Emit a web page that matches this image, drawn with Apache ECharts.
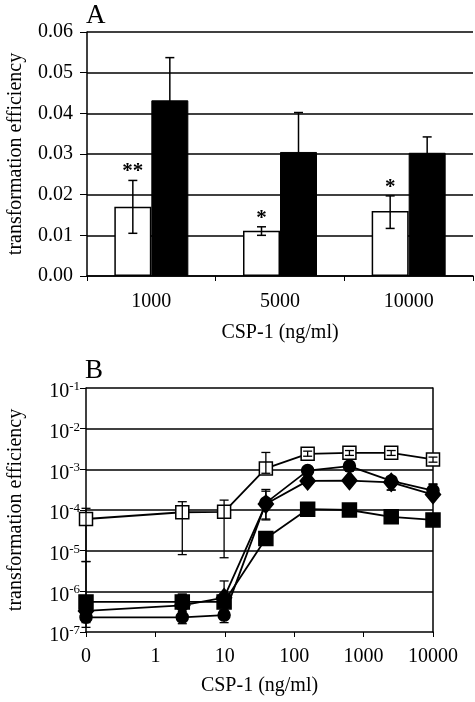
<!DOCTYPE html>
<html>
<head>
<meta charset="utf-8">
<script src="https://cdn.jsdelivr.net/npm/echarts@6/dist/echarts.min.js"></script>
<style>html,body{margin:0;padding:0;background:#fff;}#c{width:475px;height:702px;}</style>
</head>
<body>
<div id="c"></div>
<script>
// ---------- Panel A data ----------
const catsA = ['1000', '5000', '10000'];
const yTickLabelsA = ['0.00', '0.01', '0.02', '0.03', '0.04', '0.05', '0.06'];
const whiteVals = [0.0170, 0.0111, 0.0160];
const whiteLo = [0.0105, 0.0100, 0.0117];
const whiteHi = [0.0235, 0.0121, 0.0197];
const blackVals = [0.0432, 0.0305, 0.0303];
const blackLo = [0.0327, 0.0208, 0.0264];
const blackHi = [0.0537, 0.0402, 0.0342];
const starsA = ['**', '*', '*'];

// ---------- Panel B data ----------
const dosesB = [0, 2.44, 9.77, 39.06, 156.25, 625, 2500, 10000];
const xTickLabelsB = ['0', '1', '10', '100', '1000', '10000'];
const yExpLabelsB = ['-7', '-6', '-5', '-4', '-3', '-2', '-1'];
const openSqVals = [6.0e-5, 8.8e-5, 9.0e-5, 1.05e-3, 2.4e-3, 2.55e-3, 2.55e-3, 1.75e-3];
const openSqLo   = [5.4e-6, 8.0e-6, 6.7e-6, 8.0e-4, 2.1e-3, 2.2e-3, 2.2e-3, 1.5e-3];
const openSqHi   = [1.1e-4, 1.6e-4, 1.75e-4, 2.6e-3, 2.8e-3, 2.9e-3, 2.9e-3, 2.0e-3];
const circleVals = [2.3e-7, 2.3e-7, 2.6e-7, 1.5e-4, 9.3e-4, 1.2e-3, 5.2e-4, 3.0e-4];
const circleLo   = [1.3e-7, 1.6e-7, 1.7e-7, 5.7e-5, 8.0e-4, 9.0e-4, 3.1e-4, 2.0e-4];
const circleHi   = [3.0e-7, 3.2e-7, 3.5e-7, 2.9e-4, 1.05e-3, 1.4e-3, 6.0e-4, 4.4e-4];
const diamondVals = [3.3e-7, 4.5e-7, 7.0e-7, 1.4e-4, 5.2e-4, 5.3e-4, 4.8e-4, 2.4e-4];
const diamondLo   = [1.7e-7, 2.6e-7, 4.0e-7, 6.0e-5, 4.5e-4, 4.5e-4, 3.1e-4, 2.0e-4];
const diamondHi   = [5.4e-6, 8.5e-7, 1.8e-6, 3.2e-4, 6.0e-4, 6.2e-4, 6.0e-4, 4.2e-4];
const fsqVals = [5.5e-7, 5.5e-7, 5.5e-7, 2.0e-5, 1.05e-4, 1.0e-4, 6.8e-5, 5.7e-5];
const fsqLo   = [4.0e-7, 4.0e-7, 4.0e-7, 1.6e-5, 7.6e-5, 9.0e-5, 6.0e-5, 5.0e-5];
const fsqHi   = [7.0e-7, 8.5e-7, 7.0e-7, 2.5e-5, 1.2e-4, 1.1e-4, 7.5e-5, 6.3e-5];

// ---------- build ----------
const FONT = 'Liberation Serif';
const BAR_W = 37;
const xPos = d => (d === 0 ? 0.1 : d);   // "0" dose is drawn at the first decade of the log axis

function errA(lo, hi, offset, stars) {
  return {
    type: 'custom', xAxisIndex: 0, yAxisIndex: 0, z: 5,
    data: catsA.map((c, i) => [i, lo[i], hi[i]]),
    renderItem: function (params, api) {
      const i = api.value(0);
      const pLo = api.coord([i, api.value(1)]);
      const pHi = api.coord([i, api.value(2)]);
      const x = pLo[0] + offset;
      const st = { stroke: '#000', lineWidth: 1.5 };
      const ch = [
        { type: 'line', shape: { x1: x, y1: pLo[1], x2: x, y2: pHi[1] }, style: st },
        { type: 'line', shape: { x1: x - 4.5, y1: pLo[1], x2: x + 4.5, y2: pLo[1] }, style: st },
        { type: 'line', shape: { x1: x - 4.5, y1: pHi[1], x2: x + 4.5, y2: pHi[1] }, style: st }
      ];
      if (stars) {
        ch.push({ type: 'text', style: { text: stars[params.dataIndex], x: x, y: pHi[1] + 2,
          align: 'center', verticalAlign: 'bottom', fontSize: 21, fontWeight: 'bold', fontFamily: FONT, fill: '#000' } });
      }
      return { type: 'group', children: ch };
    }
  };
}

function errB(lo, hi) {
  return {
    type: 'custom', xAxisIndex: 1, yAxisIndex: 1, z: 6,
    data: dosesB.map((d, i) => [xPos(d), lo[i], hi[i]]),
    renderItem: function (params, api) {
      const pLo = api.coord([api.value(0), api.value(1)]);
      const pHi = api.coord([api.value(0), api.value(2)]);
      const x = pLo[0];
      const st = { stroke: '#000', lineWidth: 1.3 };
      return { type: 'group', children: [
        { type: 'line', shape: { x1: x, y1: pLo[1], x2: x, y2: pHi[1] }, style: st },
        { type: 'line', shape: { x1: x - 4.5, y1: pLo[1], x2: x + 4.5, y2: pLo[1] }, style: st },
        { type: 'line', shape: { x1: x - 4.5, y1: pHi[1], x2: x + 4.5, y2: pHi[1] }, style: st }
      ] };
    }
  };
}

function lineB(vals, symbol, size, fill) {
  return {
    type: 'line', xAxisIndex: 1, yAxisIndex: 1, z: 4,
    data: dosesB.map((d, i) => [xPos(d), vals[i]]),
    symbol: symbol, symbolSize: size, showSymbol: true,
    lineStyle: { color: '#000', width: 1.8 },
    itemStyle: { color: fill, borderColor: '#000', borderWidth: 1.5 },
    emphasis: { disabled: true }, animation: false
  };
}

const chart = echarts.init(document.getElementById('c'), null, { renderer: 'canvas' });
const txt = { color: '#000', fontFamily: FONT, fontSize: 20 };

chart.setOption({
  animation: false,
  backgroundColor: '#fff',
  graphic: [
    { type: 'text', left: 86, top: 2, style: { text: 'A', fontSize: 27, fontFamily: FONT, fill: '#000' } },
    { type: 'text', left: 85, top: 357, style: { text: 'B', fontSize: 27, fontFamily: FONT, fill: '#000' } }
  ],
  grid: [
    { left: 87, right: 2, top: 32, bottom: 426, containLabel: false, outerBoundsMode: 'none' },
    { left: 86, right: 42, top: 388, bottom: 70, containLabel: false, outerBoundsMode: 'none' }
  ],
  xAxis: [
    { type: 'category', gridIndex: 0, data: catsA,
      axisLine: { lineStyle: { color: '#000', width: 1.5 } },
      axisTick: { show: true, length: 5, lineStyle: { color: '#000' } },
      axisLabel: Object.assign({ margin: 16 }, txt),
      name: 'CSP-1 (ng/ml)', nameLocation: 'middle', nameGap: 47, nameTextStyle: txt },
    { type: 'log', gridIndex: 1, logBase: 10, min: 0.1, max: 10000,
      axisLine: { lineStyle: { color: '#000', width: 1.5 } },
      axisTick: { show: true, length: 5, lineStyle: { color: '#000' } },
      splitLine: { show: false }, minorTick: { show: false },
      axisLabel: Object.assign({ margin: 15, formatter: (v, idx) => xTickLabelsB[idx] }, txt),
      name: 'CSP-1 (ng/ml)', nameLocation: 'middle', nameGap: 44, nameTextStyle: txt }
  ],
  yAxis: [
    { type: 'value', gridIndex: 0, min: 0, max: 0.06, interval: 0.01,
      axisLine: { show: true, lineStyle: { color: '#000', width: 1.5 } },
      axisTick: { show: true, length: 7, lineStyle: { color: '#000' } },
      splitLine: { show: true, lineStyle: { color: '#000', width: 1.5 } },
      axisLabel: Object.assign({ margin: 14, formatter: (v, idx) => yTickLabelsA[idx] }, txt),
      name: 'transformation efficiency', nameLocation: 'middle', nameGap: 61, nameTextStyle: txt },
    { type: 'log', gridIndex: 1, logBase: 10, min: 1e-7, max: 0.1,
      axisLine: { show: true, lineStyle: { color: '#000', width: 1.5 } },
      axisTick: { show: true, length: 6, lineStyle: { color: '#000' } },
      splitLine: { show: true, showMinLine: false, showMaxLine: false, lineStyle: { color: '#000', width: 1.5 } },
      minorTick: { show: false },
      axisLabel: { margin: 6, color: '#000', fontFamily: FONT, padding: [6, 0, 0, 0],
        formatter: (v, idx) => '{b|10}{s|' + yExpLabelsB[idx] + '}',
        rich: { b: { fontSize: 20, fontFamily: FONT, color: '#000', verticalAlign: 'bottom', lineHeight: 22 },
                s: { fontSize: 13, fontFamily: FONT, color: '#000', verticalAlign: 'top', lineHeight: 22 } } },
      name: 'transformation efficiency', nameLocation: 'middle', nameGap: 60, nameTextStyle: txt },
    { type: 'log', gridIndex: 1, logBase: 10, min: 1e-7, max: 0.1, position: 'right',
      axisLine: { show: true, lineStyle: { color: '#000', width: 1.5 } },
      axisTick: { show: false }, axisLabel: { show: false }, splitLine: { show: false } }
  ],
  series: [
    { type: 'bar', xAxisIndex: 0, yAxisIndex: 0, data: whiteVals, barWidth: BAR_W, barGap: '0%',
      itemStyle: { color: '#fff', borderColor: '#000', borderWidth: 1.5 }, z: 3 },
    { type: 'bar', xAxisIndex: 0, yAxisIndex: 0, data: blackVals, barWidth: BAR_W, barGap: '0%',
      itemStyle: { color: '#000', borderColor: '#000', borderWidth: 1 }, z: 3 },
    errA(whiteLo, whiteHi, -BAR_W / 2, starsA),
    errA(blackLo, blackHi, BAR_W / 2, null),
    lineB(fsqVals, 'rect', 14, '#000'),
    lineB(diamondVals, 'diamond', [15, 18], '#000'),
    lineB(circleVals, 'circle', 12, '#000'),
    lineB(openSqVals, 'rect', 13, '#fff'),
    errB(fsqLo, fsqHi),
    errB(diamondLo, diamondHi),
    errB(circleLo, circleHi),
    errB(openSqLo, openSqHi)
  ]
});
</script>
</body>
</html>
